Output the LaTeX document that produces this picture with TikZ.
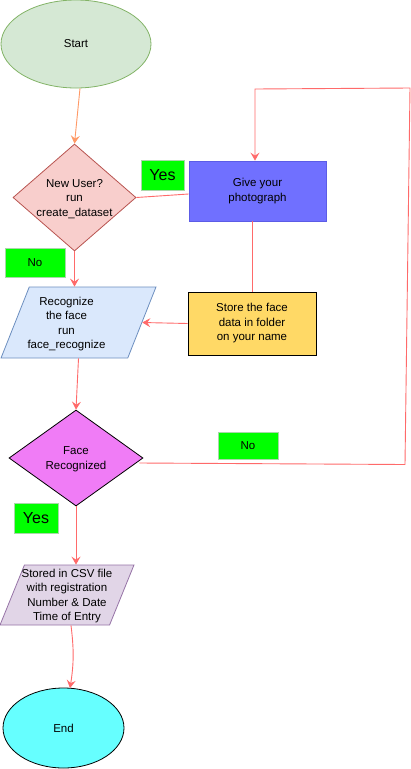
\documentclass[tikz,border=0pt]{standalone}
\usepackage{fontspec}
\setmainfont{Liberation Sans}
\usetikzlibrary{shapes.geometric,arrows.meta}
\definecolor{startfill}{HTML}{D5E8D4}
\definecolor{startline}{HTML}{82B366}
\definecolor{d1fill}{HTML}{F8CECC}
\definecolor{d1line}{HTML}{B85450}
\definecolor{givefill}{HTML}{7070FF}
\definecolor{giveline}{HTML}{5C5CE6}
\definecolor{lblfill}{HTML}{00FF00}
\definecolor{lblline}{HTML}{A8D8A8}
\definecolor{p1fill}{HTML}{DAE8FC}
\definecolor{p1line}{HTML}{6C8EBF}
\definecolor{storefill}{HTML}{FFD966}
\definecolor{d2fill}{HTML}{F07CF6}
\definecolor{p2fill}{HTML}{E1D5E7}
\definecolor{p2line}{HTML}{9673A6}
\definecolor{endfill}{HTML}{66FFFF}
\definecolor{conn}{HTML}{FF6A6A}
\definecolor{connor}{HTML}{FF9966}
\begin{document}
\begin{tikzpicture}[x=1pt,y=-1pt,
  every node/.style={font=\fontsize{11.5}{14.5}\selectfont, align=center, inner sep=0pt},
  shp/.style={line width=0.8pt, inner sep=2pt},
  oval/.style={shp, ellipse},
  dia/.style={shp, diamond},
  para/.style={shp, trapezium, trapezium left angle=74, trapezium right angle=106, trapezium stretches=true},
  box/.style={shp, rectangle},
  lbl/.style={rectangle, fill=lblfill, draw=lblline, line width=0.8pt},
  line/.style={draw=conn, line width=0.9pt},
  arr/.style={line, -{Stealth[length=8pt,width=9pt,inset=3pt]}}
]
\useasboundingbox (0,0) rectangle (411,769);

\node[oval, fill=startfill, draw=startline, minimum width=150pt, minimum height=88pt] (start) at (76,44) {Start};
\node[dia, fill=d1fill, draw=d1line, minimum width=123pt, minimum height=107pt,
  label={[name=d1t,yshift=-1.5pt]center:New User?\\run\\create\_dataset}] (d1) at (74.5,197.5) {};
\node[box, fill=givefill, draw=giveline, minimum width=137pt, minimum height=60pt] (give) at (257.5,191) {Give your\\photograph};
\node[lbl, minimum width=43pt, minimum height=30pt, font=\fontsize{16}{18}\selectfont] (yes1) at (162.5,175) {Yes};
\node[lbl, minimum width=60pt, minimum height=29pt] (no1) at (35,262.5) {No};
\node[para, fill=p1fill, draw=p1line, minimum width=155pt, minimum height=71pt,
  label={[name=p1t,xshift=-12pt,yshift=-1.5pt]center:Recognize\\the face\\run\\face\_recognize}] (p1) at (78.5,322.5) {};
\node[box, fill=storefill, draw=black, minimum width=128pt, minimum height=63pt] (store) at (252,323.5) {Store the face\\data in folder\\on your name};
\node[dia, fill=d2fill, draw=black, minimum width=134pt, minimum height=96pt,
  label={[name=d2t,yshift=-1pt]center:Face\\Recognized}] (d2) at (76,458) {};
\node[lbl, minimum width=60pt, minimum height=27pt] (no2) at (248,445.5) {No};
\node[lbl, minimum width=44pt, minimum height=30pt, font=\fontsize{16}{18}\selectfont] (yes2) at (36,518) {Yes};
\node[para, fill=p2fill, draw=p2line, minimum width=134pt, minimum height=60pt,
  label={[name=p2t,yshift=-1pt]center:Stored in CSV file\\with registration\\Number \& Date\\Time of Entry}] (p2) at (67,595) {};
\node[oval, fill=endfill, draw=black, minimum width=121pt, minimum height=80pt] (end) at (63.5,728) {End};

\coordinate (c1) at (255,89);
\coordinate (c2) at (410,88);
\coordinate (c3) at (405,464.5);

\draw[arr, draw=connor] ([xshift=4pt]start.south) -- (d1.north);
\draw[line] (d1.east) -- ([yshift=-3pt]give.west);
\draw[line] (give.south -| store.north) -- (store.north);
\draw[arr] ([xshift=-4pt,yshift=-5pt]d2.east) -- (c3) -- (c2) -- (c1) -- (c1 |- give.north);
\draw[arr] (d1.south) -- (d1.south |- p1.north);
\draw[arr] (store.west) -- (p1.east);
\draw[arr] (p1.south) -- (d2.north);
\draw[arr] (d2.south) -- (d2.south |- p2.north);
\draw[arr] ([xshift=4pt]p2.south) to[bend left=8] ([xshift=6.5pt,yshift=-0.5pt]end.north);
\end{tikzpicture}
\end{document}
